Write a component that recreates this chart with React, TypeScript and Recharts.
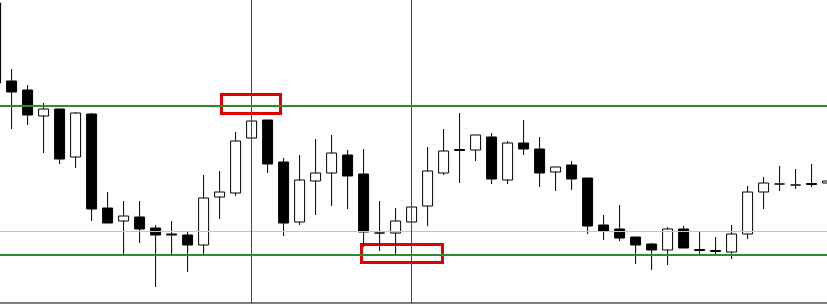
import React from "react";
import { ComposedChart, Bar, XAxis, YAxis, ReferenceLine, ReferenceArea } from "recharts";

// Categories (one per candle)
const labels: string[] = Array.from({ length: 53 }, (_, i) => `S${i + 1}`);

// OHLC series
const open: number[] = [
  1.1100, 1.1022, 1.1013, 1.0987, 1.0994, 1.0946, 1.0989, 1.0895, 1.0882, 1.0886,
  1.0875, 1.0869, 1.0868, 1.0858, 1.0906, 1.0910, 1.0965, 1.0983, 1.0941, 1.0881,
  1.0922, 1.0930, 1.0948, 1.0929, 1.0870, 1.0870, 1.0881, 1.0897, 1.0930, 1.09535,
  1.0953, 1.0966, 1.0923, 1.0960, 1.0954, 1.0931, 1.0938, 1.0925, 1.0878, 1.0874,
  1.0866, 1.0859, 1.0853, 1.0874, 1.08535, 1.08525, 1.0851, 1.0869, 1.0911, 1.0919,
  1.0918, 1.09195, 1.0920,
];
const high: number[] = [
  1.1103, 1.1034, 1.1018, 1.1000, 1.0994, 1.0991, 1.0990, 1.0911, 1.0902, 1.0902,
  1.0878, 1.0882, 1.0872, 1.0928, 1.0932, 1.0971, 1.0982, 1.0983, 1.0945, 1.0948,
  1.0964, 1.0968, 1.0953, 1.0954, 1.0902, 1.0895, 1.0896, 1.0956, 1.0974, 1.0990,
  1.0968, 1.0970, 1.0962, 1.0983, 1.0966, 1.0936, 1.0942, 1.0925, 1.0888, 1.0898,
  1.0866, 1.0860, 1.0876, 1.0877, 1.0872, 1.0866, 1.0878, 1.0917, 1.0926, 1.0937,
  1.0934, 1.0939, 1.0922,
];
const low: number[] = [
  1.1013, 1.0974, 1.0978, 1.0950, 1.0939, 1.0935, 1.0882, 1.0880, 1.0849, 1.0860,
  1.0816, 1.0849, 1.0831, 1.0849, 1.0884, 1.0907, 1.0965, 1.0930, 1.0867, 1.0878,
  1.0888, 1.0897, 1.0894, 1.0856, 1.0852, 1.0847, 1.0881, 1.0877, 1.0928, 1.0920,
  1.0942, 1.0919, 1.0919, 1.0948, 1.0916, 1.0912, 1.0913, 1.0869, 1.0863, 1.0862,
  1.0839, 1.0833, 1.0838, 1.0855, 1.0849, 1.0847, 1.0844, 1.0864, 1.0894, 1.0912,
  1.0914, 1.0916, 1.0920,
];
const close: number[] = [
  1.1020, 1.1011, 1.0988, 1.0994, 1.0944, 1.0990, 1.0894, 1.0880, 1.0887, 1.0874,
  1.0868, 1.0868, 1.0858, 1.0905, 1.0911, 1.0962, 1.0982, 1.0939, 1.0880, 1.0923,
  1.0930, 1.0950, 1.0927, 1.0871, 1.0870, 1.0882, 1.0896, 1.0932, 1.0952, 1.09525,
  1.0968, 1.0924, 1.0960, 1.0954, 1.0930, 1.0936, 1.0924, 1.0877, 1.0872, 1.0865,
  1.0858, 1.0853, 1.0874, 1.0855, 1.08525, 1.08515, 1.0869, 1.0911, 1.0920, 1.0919,
  1.0918, 1.09185, 1.0922,
];

// Every 4th candle carries a tick mark
const tickLabels: string[] = labels.filter((_, i) => (i - 1) % 4 === 0);

// Horizontal levels and markers
const resistance = 1.0997;
const support = 1.0848;
const midLevel = 1.08715;
const markerIdx: number[] = [16, 26];
const boxes = [
  { x1: 14.125, x2: 17.8125, y1: 1.10085, y2: 1.09895 },
  { x1: 22.875, x2: 27.9375, y1: 1.08585, y2: 1.08405 },
];

const data = labels.map((label, i) => ({
  label,
  idx: i,
  open: open[i],
  high: high[i],
  low: low[i],
  close: close[i],
  range: [low[i], high[i]],
}));

const Candle = (props: any) => {
  const { x, y, width, height, payload } = props;
  if (!payload) return null;
  const { open: o, close: c, high: h, low: l } = payload;
  const cx = x + width / 2;
  const k = h - l > 0 ? height / (h - l) : 0;
  const yOf = (v: number) => y + (h - v) * k;
  const bull = c >= o;
  const top = yOf(Math.max(o, c));
  const bot = yOf(Math.min(o, c));
  const bw = 10;
  const d = `M${cx - bw / 2},${top} H${cx + bw / 2} V${bot} H${cx - bw / 2} Z`;
  return (
    <g>
      <line x1={cx} x2={cx} y1={y} y2={y + height} stroke="#000" strokeWidth={1} />
      <path d={d} fill={bull ? "#fff" : "#000"} stroke="#000" strokeWidth={1} />
    </g>
  );
};

export default function App() {
  return (
    <div style={{ position: "absolute", left: 0, top: 0, width: 827, height: 306, background: "#fff" }}>
      <ComposedChart
        width={827}
        height={306}
        data={data}
        margin={{ top: 0, right: -8.5, bottom: 0, left: -12.5 }}
      >
        <XAxis
          dataKey="label"
          type="category"
          ticks={tickLabels}
          interval={0}
          tick={false}
          tickSize={3}
          height={3}
          axisLine={{ stroke: "#000" }}
          tickLine={{ stroke: "#000" }}
        />
        <XAxis xAxisId="n" dataKey="idx" type="number" domain={[-0.5, 52.5]} hide allowDataOverflow />
        <YAxis hide domain={[1.08, 1.1103]} allowDataOverflow />
        <ReferenceLine y={midLevel} stroke="#c4c4c4" strokeWidth={1} />
        {markerIdx.map((m) => (
          <ReferenceLine
            key={`v${m}`}
            xAxisId="n"
            x={m}
            stroke="#cc1111"
            strokeWidth={1}
            ifOverflow="visible"
          />
        ))}
        <Bar dataKey="range" shape={<Candle />} isAnimationActive={false} />
        <ReferenceLine y={resistance} stroke="#2e8b2e" strokeWidth={2} />
        <ReferenceLine y={support} stroke="#2e8b2e" strokeWidth={2} />
        {boxes.map((b, i) => (
          <ReferenceArea
            key={i}
            xAxisId="n"
            x1={b.x1}
            x2={b.x2}
            y1={b.y1}
            y2={b.y2}
            fill="none"
            fillOpacity={0}
            stroke="#e00000"
            strokeWidth={3}
            ifOverflow="visible"
          />
        ))}
      </ComposedChart>
    </div>
  );
}
